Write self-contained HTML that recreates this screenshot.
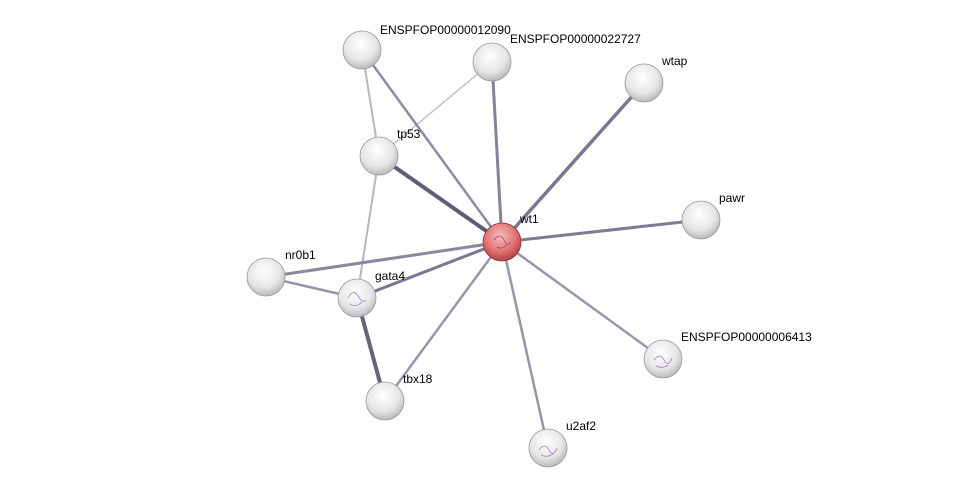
<!DOCTYPE html>
<html><head><meta charset="utf-8"><style>
html,body{margin:0;padding:0;background:#fff;}
svg{display:block;}
text{font-family:"Liberation Sans",sans-serif;font-size:12px;fill:#000;}
</style></head><body>
<svg width="975" height="493" viewBox="0 0 975 493" xmlns="http://www.w3.org/2000/svg">
<defs>
<radialGradient id="g" cx="0.45" cy="0.35" r="0.7">
<stop offset="0" stop-color="#ffffff"/>
<stop offset="0.6" stop-color="#e6e6e6"/>
<stop offset="1" stop-color="#b0b0b0"/>
</radialGradient>
<radialGradient id="r" cx="0.45" cy="0.35" r="0.7">
<stop offset="0" stop-color="#f6c0c0"/>
<stop offset="0.6" stop-color="#e07070"/>
<stop offset="1" stop-color="#a83838"/>
</radialGradient>
</defs>
<g stroke-linecap="round">
<line x1="362" y1="50" x2="379" y2="156" stroke="#b8b5c4" stroke-width="2"/>
<line x1="492" y1="62" x2="379" y2="156" stroke="#c4c2cc" stroke-width="1.5"/>
<line x1="362" y1="50" x2="502" y2="242" stroke="#8e8ca2" stroke-width="2.5"/>
<line x1="492" y1="62" x2="502" y2="242" stroke="#858399" stroke-width="3"/>
<line x1="644" y1="83" x2="502" y2="242" stroke="#7a7890" stroke-width="3.5"/>
<line x1="379" y1="156" x2="502" y2="242" stroke="#5f5d76" stroke-width="4"/>
<line x1="379" y1="156" x2="357" y2="298" stroke="#b8b5c4" stroke-width="2"/>
<line x1="701" y1="220" x2="502" y2="242" stroke="#7e7c94" stroke-width="3"/>
<line x1="266" y1="277" x2="502" y2="242" stroke="#8a889e" stroke-width="3"/>
<line x1="357" y1="298" x2="502" y2="242" stroke="#7a7890" stroke-width="3"/>
<line x1="663" y1="359" x2="502" y2="242" stroke="#9896aa" stroke-width="2.5"/>
<line x1="385" y1="401" x2="502" y2="242" stroke="#9896aa" stroke-width="2.5"/>
<line x1="548" y1="448" x2="502" y2="242" stroke="#9896aa" stroke-width="2.5"/>
<line x1="266" y1="277" x2="357" y2="298" stroke="#9896aa" stroke-width="2.5"/>
<line x1="357" y1="298" x2="385" y2="401" stroke="#66647c" stroke-width="4"/>
</g>
<g stroke="#999" stroke-width="0.8">
<circle cx="362" cy="50" r="19" fill="url(#g)"/>
<circle cx="492" cy="62" r="19" fill="url(#g)"/>
<circle cx="644" cy="83" r="19" fill="url(#g)"/>
<circle cx="379" cy="156" r="19" fill="url(#g)"/>
<circle cx="701" cy="220" r="19" fill="url(#g)"/>
<circle cx="266" cy="277" r="19" fill="url(#g)"/>
<circle cx="357" cy="298" r="19" fill="url(#g)"/>
<circle cx="663" cy="359" r="19" fill="url(#g)"/>
<circle cx="385" cy="401" r="19" fill="url(#g)"/>
<circle cx="548" cy="448" r="19" fill="url(#g)"/>
<circle cx="502" cy="242" r="19" fill="url(#r)" stroke="#8a3030"/>
</g>
<g fill="none" stroke="#a080c0" stroke-width="0.8">
<path d="M348 298 q5 -10 10 -2 t8 4 M350 304 q6 4 12 -2"/>
<path d="M654 360 q6 -8 10 0 t8 -2 M656 366 q6 3 12 -1"/>
<path d="M539 450 q6 -8 10 0 t8 -2 M541 455 q6 3 12 -1"/>
<path d="M494 240 q6 -8 10 0 t6 2 M497 247 q5 3 10 -2" stroke="#a04060"/>
</g>
<text x="380" y="34">ENSPFOP00000012090</text>
<text x="510" y="43">ENSPFOP00000022727</text>
<text x="662" y="65">wtap</text>
<text x="397" y="138">tp53</text>
<text x="520" y="223">wt1</text>
<text x="719" y="202">pawr</text>
<text x="285" y="259">nr0b1</text>
<text x="375" y="280">gata4</text>
<text x="681" y="341">ENSPFOP00000006413</text>
<text x="403" y="383">tbx18</text>
<text x="566" y="430">u2af2</text>
</svg>
</body></html>
